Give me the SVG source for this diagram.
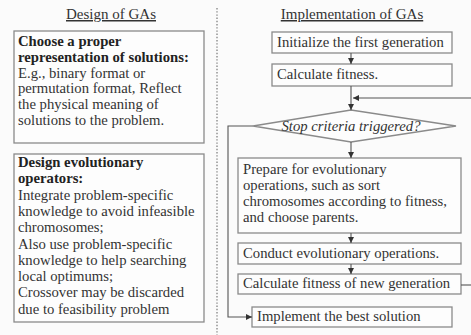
<svg xmlns="http://www.w3.org/2000/svg" width="471" height="335" viewBox="0 0 471 335">
<style>
text{font-family:"Liberation Serif","Times New Roman",serif;font-size:14.7px;fill:#333}
.b{font-weight:bold;fill:#222}
.t{font-size:15px;text-decoration:underline}
.box{fill:#fdfdfd;stroke:#8a8a8a;stroke-width:1.3}
.ln{fill:none;stroke:#555;stroke-width:1.1}
</style>
<defs>
<marker id="ah" viewBox="0 0 10 10" refX="10" refY="5" markerWidth="6" markerHeight="6" markerUnits="userSpaceOnUse" orient="auto">
<path d="M0,0 L10,5 L0,10 z" fill="#333"/>
</marker>
</defs>
<rect width="471" height="335" fill="#fbfbfb"/>
<line x1="217" y1="8" x2="217" y2="335" stroke="#777" stroke-width="1.2" stroke-dasharray="1.4 1.8"/>

<g id="title-design"><text class="t" x="111" y="19" text-anchor="middle">Design of GAs</text></g>
<g id="title-impl"><text class="t" x="352" y="19" text-anchor="middle">Implementation of GAs</text></g>

<g id="rep">
<rect class="box" x="14" y="31" width="190" height="112"/>
<text class="b" x="18" y="46">Choose a proper</text>
<text class="b" x="18" y="62">representation of solutions:</text>
<text x="18" y="77.5">E.g., binary format or</text>
<text x="18" y="93">permutation format, Reflect</text>
<text x="18" y="109">the physical meaning of</text>
<text x="18" y="125">solutions to the problem.</text>
</g>

<g id="ops">
<rect class="box" x="14" y="154" width="190" height="168"/>
<text class="b" x="18" y="167">Design evolutionary</text>
<text class="b" x="18" y="183.3">operators:</text>
<text x="18" y="199.6">Integrate problem-specific</text>
<text x="18" y="215.9">knowledge to avoid infeasible</text>
<text x="18" y="232.2">chromosomes;</text>
<text x="18" y="248.5">Also use problem-specific</text>
<text x="18" y="264.8">knowledge to help searching</text>
<text x="18" y="281.1">local optimums;</text>
<text x="18" y="297.4">Crossover may be discarded</text>
<text x="18" y="313.7">due to feasibility problem</text>
</g>

<g id="init">
<rect class="box" x="272" y="32" width="180" height="21"/>
<text x="277" y="46.5">Initialize the first generation</text>
</g>
<g id="fit">
<rect class="box" x="272" y="64" width="180" height="22"/>
<text x="277" y="78.5">Calculate fitness.</text>
</g>
<g id="stop">
<polygon points="253,126 351,110 456,126 351,142" fill="#fdfdfd" stroke="#8a8a8a" stroke-width="1.3"/>
<text x="351" y="130.5" text-anchor="middle" font-style="italic">Stop criteria triggered?</text>
</g>
<g id="prep">
<rect class="box" x="238" y="158" width="223" height="75"/>
<text x="243" y="174">Prepare for evolutionary</text>
<text x="243" y="190">operations, such as sort</text>
<text x="243" y="206">chromosomes according to fitness,</text>
<text x="243" y="222">and choose parents.</text>
</g>
<g id="conduct">
<rect class="box" x="238" y="243" width="223" height="21"/>
<text x="243" y="257.5">Conduct evolutionary operations.</text>
</g>
<g id="newfit">
<rect class="box" x="238" y="274" width="223" height="20"/>
<text x="243" y="288">Calculate fitness of new generation</text>
</g>
<g id="best">
<rect class="box" x="252" y="307" width="200" height="20"/>
<text x="257" y="321">Implement the best solution</text>
</g>

<g id="connectors">
<line class="ln" x1="351" y1="53" x2="351" y2="64" marker-end="url(#ah)"/>
<line class="ln" x1="351" y1="86" x2="351" y2="110" marker-end="url(#ah)"/>
<polyline class="ln" points="461,285 471,285"/>
<line class="ln" x1="471" y1="98" x2="353" y2="98" marker-end="url(#ah)"/>
<line class="ln" x1="351" y1="142" x2="351" y2="158" marker-end="url(#ah)"/>
<line class="ln" x1="351" y1="233" x2="351" y2="243" marker-end="url(#ah)"/>
<line class="ln" x1="351" y1="264" x2="351" y2="274" marker-end="url(#ah)"/>
<polyline class="ln" points="253,126 228,126 228,317 252,317" marker-end="url(#ah)"/>
</g>
</svg>
